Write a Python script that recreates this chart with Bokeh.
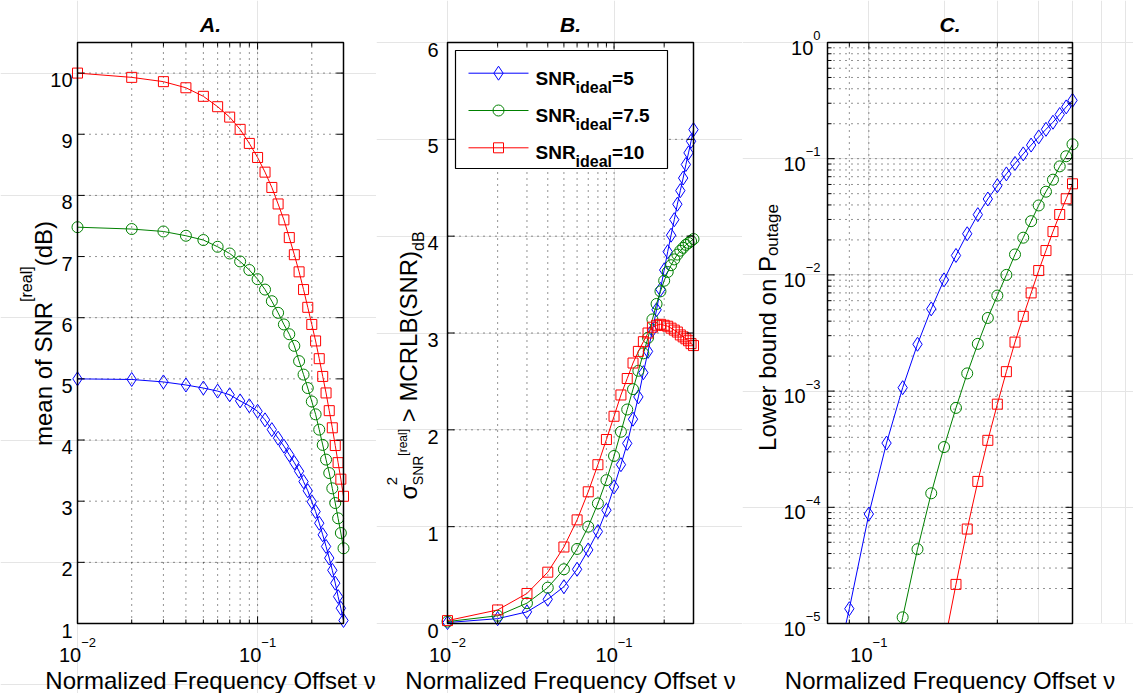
import math
from bokeh.plotting import figure
from bokeh.models import Range1d, Label
from bokeh.layouts import row
from bokeh.embed import file_html
from bokeh.resources import INLINE

# ---------------- data ----------------
freq = [0.01, 0.02, 0.03, 0.04, 0.05, 0.06, 0.07, 0.08, 0.09, 0.10,
        0.11, 0.12, 0.13, 0.14, 0.15, 0.16, 0.17, 0.18, 0.19, 0.20,
        0.21, 0.22, 0.23, 0.24, 0.25, 0.26, 0.27, 0.28, 0.29, 0.30]

# Panel A: mean of SNR_real (dB)
meanA_5 = [5.00, 4.99, 4.95, 4.90, 4.85, 4.80, 4.74, 4.64, 4.56, 4.47,
           4.33, 4.17, 4.03, 3.90, 3.76, 3.63, 3.49, 3.32, 3.17, 2.99,
           2.83, 2.64, 2.45, 2.26, 2.07, 1.87, 1.66, 1.44, 1.25, 1.05]
meanA_75 = [7.48, 7.45, 7.41, 7.34, 7.27, 7.16, 7.05, 6.92, 6.78, 6.63,
            6.46, 6.27, 6.08, 5.89, 5.73, 5.54, 5.29, 5.07, 4.85, 4.63,
            4.42, 4.17, 3.92, 3.68, 3.46, 3.21, 2.97, 2.72, 2.48, 2.23]
meanA_10 = [10.0, 9.93, 9.86, 9.76, 9.62, 9.45, 9.28, 9.08, 8.85, 8.62,
            8.38, 8.13, 7.86, 7.60, 7.31, 7.03, 6.75, 6.46, 6.17, 5.89,
            5.62, 5.33, 5.04, 4.77, 4.48, 4.20, 3.91, 3.63, 3.36, 3.08]

# Panel B: variance / MCRLB
varB_5 = [0.01, 0.05, 0.12, 0.25, 0.38, 0.56, 0.76, 0.95, 1.17, 1.41,
          1.64, 1.86, 2.11, 2.34, 2.59, 2.81, 3.03, 3.24, 3.45, 3.65,
          3.84, 4.01, 4.17, 4.33, 4.47, 4.60, 4.74, 4.86, 4.98, 5.10]
varB_75 = [0.02, 0.08, 0.21, 0.37, 0.56, 0.77, 1.00, 1.24, 1.48, 1.73,
           1.98, 2.21, 2.42, 2.61, 2.79, 2.95, 3.14, 3.30, 3.43, 3.54,
           3.63, 3.70, 3.76, 3.81, 3.85, 3.88, 3.91, 3.93, 3.95, 3.97]
varB_10 = [0.03, 0.14, 0.31, 0.53, 0.79, 1.07, 1.36, 1.64, 1.90, 2.14,
           2.36, 2.53, 2.69, 2.81, 2.91, 3.00, 3.06, 3.08, 3.09, 3.08,
           3.07, 3.05, 3.03, 3.01, 2.98, 2.96, 2.94, 2.92, 2.89, 2.87]

# Panel C: lower bound on outage probability
freqC_5 = [0.08, 0.09, 0.10, 0.11, 0.12, 0.13, 0.14, 0.15, 0.16, 0.17, 0.18, 0.19,
           0.20, 0.21, 0.22, 0.23, 0.24, 0.25, 0.26, 0.27, 0.28, 0.29, 0.30]
poutC_5 = [2.0e-6, 1.34e-5, 8.75e-5, 3.57e-4, 1.07e-3, 2.53e-3, 5.1e-3, 9.06e-3,
           1.47e-2, 2.26e-2, 3.30e-2, 4.50e-2, 5.85e-2, 7.40e-2, 9.10e-2, 0.110,
           0.131, 0.154, 0.179, 0.206, 0.240, 0.279, 0.318]
freqC_75 = [0.11, 0.12, 0.13, 0.14, 0.15, 0.16, 0.17, 0.18, 0.19, 0.20,
            0.21, 0.22, 0.23, 0.24, 0.25, 0.26, 0.27, 0.28, 0.29, 0.30]
poutC_75 = [2.2e-6, 1.13e-5, 4.36e-5, 1.32e-4, 3.3e-4, 7.17e-4, 1.42e-3, 2.55e-3,
            4.26e-3, 6.64e-3, 1.0e-2, 1.5e-2, 2.09e-2, 2.9e-2, 3.96e-2, 5.2e-2,
            6.6e-2, 8.59e-2, 0.105, 0.133]
freqC_10 = [0.15, 0.16, 0.17, 0.18, 0.19, 0.20, 0.21, 0.22, 0.23,
            0.24, 0.25, 0.26, 0.27, 0.28, 0.29, 0.30]
poutC_10 = [6.5e-6, 2.17e-5, 6.5e-5, 1.67e-4, 3.77e-4, 7.72e-4, 1.47e-3, 2.64e-3,
            4.4e-3, 7.0e-3, 1.09e-2, 1.62e-2, 2.36e-2, 3.31e-2, 4.52e-2, 6.08e-2]

series_labels = ["5", "7.5", "10"]
x_title = "Normalized Frequency Offset \u03bd"
panel_titles = ["A.", "B.", "C."]

# axis ticks
x_major_AB = [0.01, 0.1]
x_minor_AB = [0.02, 0.03, 0.04, 0.05, 0.06, 0.07, 0.08, 0.09, 0.2, 0.3]
y_major_A = [1, 2, 3, 4, 5, 6, 7, 8, 9, 10]
y_major_B = [0, 1, 2, 3, 4, 5, 6]
x_major_C = [0.1]
x_minor_C = [0.08, 0.09, 0.2, 0.3]
y_major_C = [1e-5, 1e-4, 1e-3, 1e-2, 1e-1, 1.0]
y_minor_C = [k * 10.0 ** e for e in range(-5, 0) for k in range(2, 10)]

# ---------------- styling / geometry ----------------
FONT = "Liberation Sans"
BLUE, GREEN, RED = "#0000ff", "#008000", "#ff0000"
H = 693
FT, FH = 42, 581
TICK_FS = 20
EXP_FS = 13
LAB_FS = 24
GRID_DASH = "1 5"

W_REG = {' ': 278, '(': 333, ')': 333, '[': 278, ']': 278, '>': 584, '=': 584, '.': 278,
         '\u2212': 584, 'A': 667, 'B': 667, 'C': 722, 'D': 722, 'F': 611, 'L': 556,
         'M': 833, 'N': 722, 'O': 778, 'P': 667, 'R': 722, 'S': 667, 'a': 556, 'b': 556,
         'c': 500, 'd': 556, 'e': 556, 'f': 278, 'g': 556, 'i': 222, 'l': 222, 'm': 833,
         'n': 556, 'o': 556, 'q': 556, 'r': 333, 's': 500, 't': 278, 'u': 556, 'w': 722,
         'y': 500, 'z': 500, '\u03c3': 600, '\u03bd': 500}
W_BOLD = {'S': 667, 'N': 722, 'R': 722, 'i': 278, 'd': 611, 'e': 556, 'a': 556, 'l': 278,
          '=': 584, '.': 278, ' ': 278}


def tw(s, size, bold=False):
    tab = W_BOLD if bold else W_REG
    return sum(tab.get(c, 556) for c in s) / 1000.0 * size


def px2data(g, px, py):
    fx = (px - g['gx'] - g['fl']) / g['fw']
    x0, x1 = g['xr']
    x = 10 ** (math.log10(x0) + fx * (math.log10(x1) - math.log10(x0)))
    fy = (FT + FH - py) / FH
    y0, y1 = g['yr']
    if g['ylog']:
        y = 10 ** (math.log10(y0) + fy * (math.log10(y1) - math.log10(y0)))
    else:
        y = y0 + fy * (y1 - y0)
    return x, y


def xpix(g, v):
    x0, x1 = g['xr']
    return g['gx'] + g['fl'] + g['fw'] * (math.log10(v) - math.log10(x0)) / (math.log10(x1) - math.log10(x0))


def ypix(g, v):
    y0, y1 = g['yr']
    if g['ylog']:
        f = (math.log10(v) - math.log10(y0)) / (math.log10(y1) - math.log10(y0))
    else:
        f = (v - y0) / (y1 - y0)
    return FT + FH - FH * f


def label(p, g, px, py, text, size, style="normal", align="left", angle=0.0):
    x, y = px2data(g, px, py)
    p.add_layout(Label(x=x, y=y, text=text, text_font=FONT, text_font_size=f"{size}px",
                       text_font_style=style, text_align=align, text_baseline="alphabetic",
                       text_color="black", angle=angle))


def rich(p, g, px, py, pieces, vertical=False, anchor="center"):
    # pieces: (text, size, raise, bold, advance); blank pieces only advance
    total = sum(tw(t, s, b) for (t, s, r, b, adv) in pieces if adv)
    start = -total / 2 if anchor == "center" else (-total if anchor == "right" else 0)
    pos = start
    for (t, s, r, b, adv) in pieces:
        style = "bold" if b else "normal"
        if t.strip():
            if vertical:
                label(p, g, px - r, py - pos, t, s, style, angle=math.pi / 2)
            else:
                label(p, g, px + pos, py - r, t, s, style)
        if adv:
            pos += tw(t, s, b)


def pow10_label(p, g, px, py, exp, anchor):
    e_txt = ("\u2212" + str(-exp)) if exp < 0 else str(exp)
    rich(p, g, px, py, [("10", TICK_FS, 0, False, True), (e_txt, EXP_FS, 12, False, True)],
         anchor=anchor)


def make_panel(g):
    x_lo = px2data(g, g['gx'], 0)[0]
    x_hi = px2data(g, g['gx'] + g['W'], 0)[0]
    y_lo = px2data(g, g['gx'], H)[1]
    y_hi = px2data(g, g['gx'], 0)[1]
    p = figure(width=g['W'], height=H, x_axis_type="log",
               y_axis_type="log" if g['ylog'] else "linear",
               x_range=Range1d(x_lo, x_hi), y_range=Range1d(y_lo, y_hi),
               x_axis_location=None, y_axis_location=None,
               output_backend="svg", toolbar_location=None, min_border=0)
    p.outline_line_color = None
    p.background_fill_color = "white"
    p.border_fill_color = "white"
    return p


def draw_grid(p, g, xt, yt):
    x0, x1 = g['xr']
    y0, y1 = g['yr']
    xs = [t for t in xt if x0 < t < x1]
    ys = [t for t in yt if y0 < t < y1]
    p.segment(x0=xs, y0=[y0] * len(xs), x1=xs, y1=[y1] * len(xs),
              line_color="black", line_dash=GRID_DASH, line_width=1, line_alpha=0.85)
    p.segment(x0=[x0] * len(ys), y0=ys, x1=[x1] * len(ys), y1=ys,
              line_color="black", line_dash=GRID_DASH, line_width=1, line_alpha=0.85)


def draw_box_ticks(p, g, xmaj, xmin, ymaj, ymin):
    x0, x1 = g['xr']
    y0, y1 = g['yr']
    left = g['gx'] + g['fl']
    right = left + g['fw']
    bot = FT + FH
    for ticks, ln in ((xmaj, 7), (xmin, 4)):
        yb = px2data(g, left, bot - ln)[1]
        yt_ = px2data(g, left, FT + ln)[1]
        p.segment(x0=ticks, y0=[y0] * len(ticks), x1=ticks, y1=[yb] * len(ticks),
                  line_color="black", line_width=1)
        p.segment(x0=ticks, y0=[y1] * len(ticks), x1=ticks, y1=[yt_] * len(ticks),
                  line_color="black", line_width=1)
    for ticks, ln in ((ymaj, 7), (ymin, 4)):
        if not ticks:
            continue
        xl = px2data(g, left + ln, bot)[0]
        xr_ = px2data(g, right - ln, bot)[0]
        p.segment(x0=[x0] * len(ticks), y0=ticks, x1=[xl] * len(ticks), y1=ticks,
                  line_color="black", line_width=1)
        p.segment(x0=[x1] * len(ticks), y0=ticks, x1=[xr_] * len(ticks), y1=ticks,
                  line_color="black", line_width=1)
    p.quad(left=[x0], right=[x1], bottom=[y0], top=[y1], fill_color=None,
           line_color="black", line_width=1.5)


def add_series(p, xs, ys, color, marker, size):
    p.line(xs, ys, line_color=color, line_width=1)
    p.scatter(xs, ys, marker=marker, size=size, line_color=color, fill_color=None, line_width=1)


# geometry (global pixel positions of the plot boxes)
gA = dict(gx=0, W=376, fl=77, fw=266, xr=(0.01, 0.3), yr=(1, 10.5), ylog=False)
gB = dict(gx=376, W=366, fl=71, fw=246, xr=(0.01, 0.3), yr=(0, 6), ylog=False)
gC = dict(gx=742, W=391, fl=85, fw=245, xr=(0.08, 0.3), yr=(1e-5, 1), ylog=True)

# ---------- Panel A ----------
pA = make_panel(gA)
draw_grid(pA, gA, x_major_AB + x_minor_AB, y_major_A)
add_series(pA, freq, meanA_5, BLUE, "diamond", 14)
add_series(pA, freq, meanA_75, GREEN, "circle", 11)
add_series(pA, freq, meanA_10, RED, "square", 10)
draw_box_ticks(pA, gA, x_major_AB, x_minor_AB, y_major_A, [])

# ---------- Panel B ----------
pB = make_panel(gB)
draw_grid(pB, gB, x_major_AB + x_minor_AB, y_major_B)
add_series(pB, freq, varB_5, BLUE, "diamond", 14)
add_series(pB, freq, varB_75, GREEN, "circle", 11)
add_series(pB, freq, varB_10, RED, "square", 10)
draw_box_ticks(pB, gB, x_major_AB, x_minor_AB, y_major_B, [])

# ---------- Panel C ----------
pC = make_panel(gC)
draw_grid(pC, gC, x_major_C + x_minor_C, y_major_C + y_minor_C)
add_series(pC, freqC_5, poutC_5, BLUE, "diamond", 14)
add_series(pC, freqC_75, poutC_75, GREEN, "circle", 11)
add_series(pC, freqC_10, poutC_10, RED, "square", 10)
# white mask below the plot box (clips lines that leave through the bottom)
mx0, my0 = px2data(gC, gC['gx'], H)
mx1, _ = px2data(gC, gC['gx'] + gC['W'], H)
pC.quad(left=[mx0], right=[mx1], bottom=[my0], top=[gC['yr'][0]], fill_color="white",
        line_color=None)
draw_box_ticks(pC, gC, x_major_C, x_minor_C, y_major_C, y_minor_C)

# ---------- titles, x labels, tick labels ----------
for p, g, t in ((pA, gA, panel_titles[0]), (pB, gB, panel_titles[1]), (pC, gC, panel_titles[2])):
    cx = g['gx'] + g['fl'] + g['fw'] / 2
    label(p, g, cx, 24, t, 21, "bold italic", align="center")
    label(p, g, cx, 680, x_title, LAB_FS, align="center")

for p, g, ticks in ((pA, gA, x_major_AB), (pB, gB, x_major_AB), (pC, gC, x_major_C)):
    for v in ticks:
        pow10_label(p, g, xpix(g, v), 654, int(round(math.log10(v))), "center")

for v in y_major_A:
    label(pA, gA, gA['gx'] + gA['fl'] - 5, ypix(gA, v) + 7, str(v), TICK_FS, align="right")
for v in y_major_B:
    label(pB, gB, gB['gx'] + gB['fl'] - 9, ypix(gB, v) + 7, str(v), TICK_FS, align="right")
for v in y_major_C:
    pow10_label(pC, gC, gC['gx'] + gC['fl'] - 7, ypix(gC, v) + 5, int(round(math.log10(v))), "right")

# y labels
rich(pA, gA, 43, 333, [("mean of SNR", LAB_FS, 0, False, True),
                       ("[real]", 16, 17, False, True),
                       ("(dB)", LAB_FS, 0, False, True)], vertical=True)
rich(pB, gB, 408, 365, [("\u03c3", LAB_FS, 0, False, True),
                        ("2", 15, 17, False, False),
                        ("SNR", 14, -9, False, True),
                        ("[real]", 12, 6, False, True),
                        (" ", LAB_FS, 0, False, True),
                        ("> MCRLB(SNR)", LAB_FS, 0, False, True),
                        ("dB", 16, -10, False, True)], vertical=True)
rich(pC, gC, 767, 327, [("Lower bound on P", LAB_FS, 0, False, True),
                        ("outage", 17, -5, False, True)], vertical=True)

# ---------- legend in panel B ----------
bl, bb = px2data(gB, 455, 168)
br, bt = px2data(gB, 667, 50)
pB.quad(left=[bl], right=[br], bottom=[bb], top=[bt], fill_color="white",
        line_color="black", line_width=1.2)
for (cy, col, mk, sz, lab) in ((72.7, BLUE, "diamond", 14, series_labels[0]),
                               (110.0, GREEN, "circle", 11, series_labels[1]),
                               (147.3, RED, "square", 10, series_labels[2])):
    xa, ya = px2data(gB, 468, cy)
    xb, _ = px2data(gB, 528, cy)
    xm, _ = px2data(gB, 498, cy)
    pB.line([xa, xb], [ya, ya], line_color=col, line_width=1)
    pB.scatter([xm], [ya], marker=mk, size=sz, line_color=col, fill_color=None, line_width=1)
    rich(pB, gB, 535, cy + 5, [("SNR", 19, 0, True, True),
                               ("ideal", 16, -9, True, True),
                               ("=" + lab, 19, 0, True, True)], anchor="left")

layout = row(pA, pB, pC)
open("out.html", "w").write(file_html(layout, INLINE))
